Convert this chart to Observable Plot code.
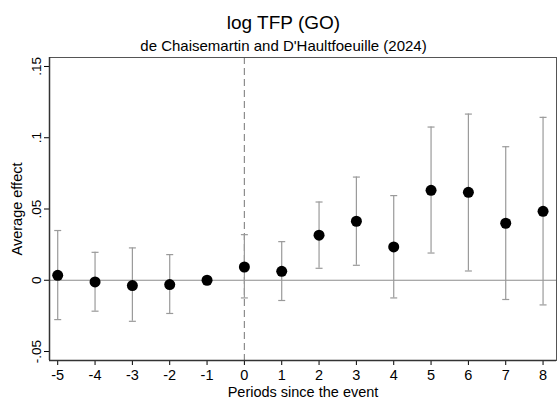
<!DOCTYPE html>
<html>
<head>
<meta charset="utf-8">
<script src="https://cdn.jsdelivr.net/npm/d3@7"></script>
<script src="https://cdn.jsdelivr.net/npm/@observablehq/plot@0.6"></script>
<style>
  html, body { margin: 0; padding: 0; background: #fff; }
  #wrap { position: relative; width: 557px; height: 399px; font-family: "Liberation Sans", Arial, sans-serif; }
  #title { position: absolute; left: 0; top: 12px; width: 567px; text-align: center; font-size: 19px; line-height: 22px; color: #000; }
  #subtitle { position: absolute; left: 0; top: 37px; width: 567px; text-align: center; font-size: 15px; line-height: 18px; color: #000; }
  #chart { position: absolute; left: 0; top: 0; }
</style>
</head>
<body>
<div id="wrap">
  <div id="chart"></div>
  <div id="title">log TFP (GO)</div>
  <div id="subtitle">de Chaisemartin and D'Haultfoeuille (2024)</div>
</div>
<script>
const periods = [-5, -4, -3, -2, -1, 0, 1, 2, 3, 4, 5, 6, 7, 8];
const estimates = [0.0035, -0.0012, -0.0037, -0.0030, 0.0000, 0.0093, 0.0063, 0.0316, 0.0414, 0.0234, 0.0631, 0.0617, 0.0400, 0.0484];
const ciLower = [-0.0276, -0.0217, -0.0288, -0.0233, null, -0.0124, -0.0142, 0.0084, 0.0105, -0.0124, 0.0191, 0.0065, -0.0135, -0.0173];
const ciUpper = [0.0349, 0.0196, 0.0227, 0.0180, null, 0.0320, 0.0271, 0.0549, 0.0724, 0.0594, 0.1075, 0.1166, 0.0937, 0.1143];
const yTicks = [-0.05, 0, 0.05, 0.1, 0.15];
const yTickLabels = ["-.05", "0", ".05", ".1", ".15"];
const eventPeriod = 0;

const data = periods.map((p, i) => ({period: p, est: estimates[i], lo: ciLower[i], hi: ciUpper[i]}));
const ciData = data.filter(d => d.lo != null);

const capSymbol = {
  draw(context, size) {
    const w = 3.5;
    context.moveTo(-w, 0);
    context.lineTo(w, 0);
  }
};

const labelFor = v => {
  const i = yTicks.findIndex(t => Math.abs(t - v) < 1e-9);
  return i >= 0 ? yTickLabels[i] : "";
};

const chart = Plot.plot({
  width: 557,
  height: 399,
  marginTop: 57,
  marginBottom: 39,
  marginLeft: 49,
  marginRight: 1,
  style: {fontFamily: "'Liberation Sans', Arial, sans-serif", fontSize: "13px", color: "#000", background: "#fff"},
  x: {domain: [-5.22, 8.36]},
  y: {domain: [-0.0563, 0.1563]},
  marks: [
    Plot.ruleY([0], {stroke: "#8c8c8c", strokeWidth: 1.2}),
    Plot.ruleX([eventPeriod], {stroke: "#8c8c8c", strokeWidth: 1.2, strokeDasharray: "7,4"}),
    Plot.ruleX(ciData, {x: "period", y1: "lo", y2: "hi", stroke: "#9a9a9a", strokeWidth: 1.2}),
    Plot.dot(ciData, {x: "period", y: "lo", symbol: capSymbol, stroke: "#9a9a9a", strokeWidth: 1.2, fill: "none"}),
    Plot.dot(ciData, {x: "period", y: "hi", symbol: capSymbol, stroke: "#9a9a9a", strokeWidth: 1.2, fill: "none"}),
    Plot.dot(data, {x: "period", y: "est", r: 5.5, fill: "#000", stroke: "none"}),
    Plot.frame({stroke: "#555", strokeWidth: 1}),
    Plot.axisX({ticks: periods, tickFormat: d => String(d), tickSize: 5, tickPadding: 4, fontSize: 14.5, label: null}),
    Plot.axisX({ticks: [], tickSize: 0, fontSize: 14.5,
      label: "Periods since the event", labelAnchor: "center", labelArrow: "none", labelOffset: 36}),
    Plot.axisY({ticks: yTicks, tickFormat: labelFor, tickSize: 5, tickPadding: 4, tickRotate: -90, fontSize: 13.5, label: null}),
    Plot.axisY({ticks: [], tickSize: 0, fontSize: 14.5,
      label: "Average effect", labelAnchor: "center", labelArrow: "none", labelOffset: 38}),
    Plot.ruleX([-5.22], {stroke: "#333", strokeWidth: 1.5}),
    Plot.ruleY([-0.0563], {stroke: "#333", strokeWidth: 1.5})
  ]
});
document.getElementById("chart").appendChild(chart);
</script>
</body>
</html>
